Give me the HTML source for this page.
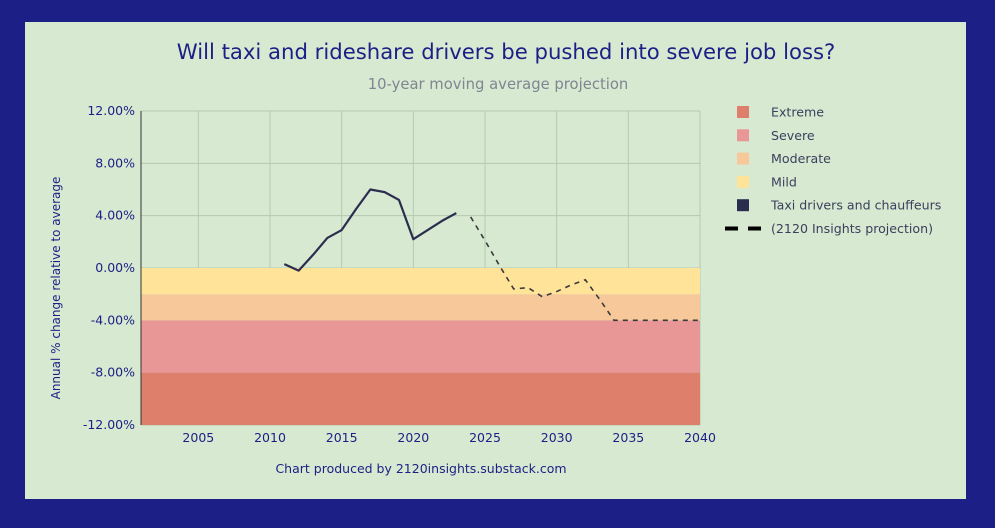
<!DOCTYPE html>
<html><head><meta charset="utf-8"><style>
body{margin:0;width:995px;height:528px;background:#1c1f85;overflow:hidden;font-family:"Liberation Sans","DejaVu Sans",sans-serif}
#panel{position:absolute;left:25px;top:22px;width:941px;height:477px;background:#d7e9d1}
</style></head><body>
<div id="panel"></div>
<svg id="chart" width="995" height="528" style="position:absolute;left:0;top:0">
<text x="506" y="59" text-anchor="middle" font-size="21.2" fill="#1c1f85" font-family="DejaVu Sans,sans-serif">Will taxi and rideshare drivers be pushed into severe job loss?</text>
<text x="498" y="89" text-anchor="middle" font-size="14.8" fill="#7f8591" font-family="DejaVu Sans,sans-serif">10-year moving average projection</text>
<text x="421" y="473" text-anchor="middle" font-size="12.5" fill="#1c1f85" font-family="DejaVu Sans,sans-serif">Chart produced by 2120insights.substack.com</text>
<text transform="translate(60,288) rotate(-90)" text-anchor="middle" font-size="12" fill="#1c1f85" font-family="DejaVu Sans,sans-serif">Annual % change relative to average</text>
<g id="plot"></g>
<g id="legend"></g>
</svg>
<script>
const years=[2011,2012,2013,2014,2015,2016,2017,2018,2019,2020,2021,2022,2023];
const actual=[0.3,-0.2,1.0,2.3,2.9,4.5,6.0,5.8,5.2,2.2,2.9,3.6,4.2];
const projYears=[2024,2025,2026,2027,2028,2029,2030,2031,2032,2033,2034,2035,2036,2037,2038,2039,2040];
const projection=[3.9,2.1,0.2,-1.6,-1.5,-2.2,-1.8,-1.3,-0.9,-2.4,-4.0,-4.0,-4.0,-4.0,-4.0,-4.0,-4.0];
const yTicks=[12,8,4,0,-4,-8,-12];
const xTicks=[2005,2010,2015,2020,2025,2030,2035,2040];
const bandNames=["Extreme","Severe","Moderate","Mild"];
const bandTop=[-8,-4,-2,0];
const bandBottom=[-12,-8,-4,-2];
const bandColors=["#de7f6b","#e89696","#f7c99a","#fee399"];
const NS="http://www.w3.org/2000/svg";
const X0=141,X1=700,Y0=111,Y1=425,xmin=2001,xmax=2040,ymin=-12,ymax=12;
const sx=v=>X0+(v-xmin)/(xmax-xmin)*(X1-X0);
const sy=v=>Y1-(v-ymin)/(ymax-ymin)*(Y1-Y0);
const plot=document.getElementById('plot');
function mk(t,a,p){const e=document.createElementNS(NS,t);for(const k in a)e.setAttribute(k,a[k]);(p||plot).appendChild(e);return e;}
yTicks.forEach(v=>{const l=mk('line',{x1:X0,x2:X1,y1:sy(v),y2:sy(v),stroke:'#b5c9b1','stroke-width':1});


const t=mk('text',{x:X0-6,y:sy(v)+4,'text-anchor':'end','font-size':12.5,fill:'#1c1f85','font-family':'DejaVu Sans,sans-serif'});t.textContent=v.toFixed(2)+'%';

});
xTicks.forEach(v=>{const l=mk('line',{x1:sx(v),x2:sx(v),y1:Y0,y2:Y1,stroke:'#b5c9b1','stroke-width':1});


const t=mk('text',{x:sx(v),y:Y1+17,'text-anchor':'middle','font-size':12.5,fill:'#1c1f85','font-family':'DejaVu Sans,sans-serif'});t.textContent=v;

});
bandNames.forEach((n,i)=>{const r=mk('rect',{x:X0,y:sy(bandTop[i]),width:X1-X0,height:sy(bandBottom[i])-sy(bandTop[i]),fill:bandColors[i]});

});
const ax=mk('line',{x1:X0,x2:X0,y1:Y0,y2:Y1,stroke:'#333','stroke-width':1});


const a=mk('polyline',{points:years.map((y,i)=>sx(y)+','+sy(actual[i])).join(' '),fill:'none',stroke:'#2b2d4e','stroke-width':2.2,'stroke-linejoin':'round'});


const p=mk('polyline',{points:projYears.map((y,i)=>sx(y)+','+sy(projection[i])).join(' '),fill:'none',stroke:'#3a3a3a','stroke-width':1.6,'stroke-dasharray':'5,5'});


const lg=document.getElementById('legend');
const items=[["Extreme","#de7f6b"],["Severe","#e89696"],["Moderate","#f7c99a"],["Mild","#fee399"],["Taxi drivers and chauffeurs","#2b2d4e"]];
items.forEach((it,i)=>{const y=112+i*23.3;
const r=mk('rect',{x:737,y:y-6,width:12,height:12,fill:it[1]},lg);


const t=mk('text',{x:771,y:y+4.5,'font-size':12.6,fill:'#3b3f5c','font-family':'DejaVu Sans,sans-serif'},lg);t.textContent=it[0];

});
const dl=mk('line',{x1:725,x2:762,y1:228.5,y2:228.5,stroke:'#000','stroke-width':4,'stroke-dasharray':'13,10'},lg);


const dt=mk('text',{x:771,y:233,'font-size':12.6,fill:'#3b3f5c','font-family':'DejaVu Sans,sans-serif'},lg);dt.textContent='(2120 Insights projection)';


</script>
</body></html>
